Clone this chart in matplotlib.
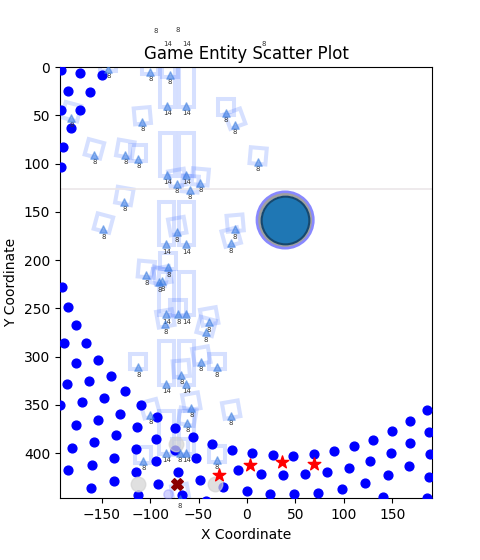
import numpy as np
import matplotlib
matplotlib.use('Agg')
import matplotlib.pyplot as plt
from matplotlib.patches import Rectangle

# blue dots (data coords)
dot_x = [-191.5, -172.0, -149.3, -184.3, -161.6, -172.0, -191.5, -181.2, -189.5, -191.5,
         -190.5, -184.3, -176.1, -188.5, -165.8, -176.1, -153.4, -185.4, -162.7, -140.0,
         -125.6, -169.9, -147.2, -192.6, -109.1, -130.7, -153.4, -176.1, -92.6, -113.2,
         -134.8, -157.5, -180.2, -74.0, -55.5, -93.6, -114.2, -136.9, -159.6, -184.3,
         -74.0, -93.6, -114.2, -136.9, -160.6, -112.2, -91.5, -70.9, -52.4, -35.9,
         -15.3, 5.4, -9.1, -48.2, -24.5, 0.2, -66.8, -42.1,
         14.6, 27.0, 37.3, 47.6, 60.0, 69.3, 82.7, 89.9, 105.4, 110.5,
         127.0, 130.1, 148.7, 149.7, 168.2, 168.2, 185.8, 187.8, 188.9, 187.8,
         167.2, 145.6, 121.9, 98.1, 73.4, 48.7, 23.9, 140.4, 185.6]
dot_y = [3.4, 5.5, 8.6, 24.2, 25.3, 44.0, 44.0, 62.7, 82.5, 103.3,
         228.1, 248.9, 267.6, 286.3, 286.3, 307.1, 304.0, 327.9, 324.8, 320.6,
         335.2, 346.6, 342.5, 349.8, 349.8, 359.1, 365.4, 370.6, 362.2, 372.6,
         381.0, 388.2, 394.5, 373.7, 383.0, 385.1, 395.5, 404.9, 412.2, 417.4,
         396.6, 408.0, 419.4, 428.8, 436.1, 443.4, 431.9, 419.4, 404.9, 390.3,
         396.6, 399.7, 417.4, 427.8, 435.0, 439.2, 443.4, 449.6,
         421.5, 401.8, 422.6, 402.8, 421.5, 400.7, 419.4, 397.6, 415.3, 392.4,
         408.0, 386.2, 399.7, 376.8, 389.3, 366.4, 355.0, 377.8, 400.7, 424.6,
         413.2, 422.6, 430.9, 437.1, 441.3, 442.3, 442.3, 445.4, 446.5]

# entities: position, label, rotation of outline
ent_x = [-143.1, -99.8, -79.2, -82.3, -62.7, -181.2, -108.0, -21.4, -12.2, -157.5,
         -125.6, -112.2, 11.5, -82.3, -62.7, -72.0, -58.6, -48.2, -126.6, -148.2,
         -72.0, -12.2, -16.3, -83.3, -62.7, -103.9, -81.2, -90.5, -87.4, -83.3,
         -62.7, -70.9, -84.3, -39.0, -42.1, -112.2, -47.2, -30.7, -67.8, -83.3,
         -62.7, -57.5, -99.8, -16.3, -61.6, -83.3, -62.7, -68.9, -107.0, -30.7,
         -68.9, -94.6, -82.3, -71.0, -62.7, 17.7]
ent_y = [1.4, 4.5, 7.6, 39.8, 39.8, 52.3, 56.5, 47.1, 59.6, 90.8,
         90.8, 95.0, 98.1, 111.6, 111.6, 121.0, 127.2, 119.9, 139.7, 167.8,
         170.9, 167.8, 182.3, 183.4, 183.4, 215.6, 207.3, 222.9, 221.9, 256.2,
         256.2, 256.2, 266.6, 264.5, 274.9, 311.3, 305.1, 311.3, 318.6, 328.0,
         328.0, 352.9, 360.2, 361.2, 368.5, 399.7, 399.7, 399.7, 408.0, 407.0,
         447.5, -45.4, -31.9, -46.5, -31.9, -31.9]
ent_label = ['8', '8', '8', '14', '14', '8', '8', '8', '8', '8',
             '8', '8', '8', '14', '14', '8', '8', '8', '8', '8',
             '8', '8', '8', '14', '14', '8', '8', '8', '8', '14',
             '14', '8', '8', '8', '8', '8', '8', '8', '8', '14',
             '14', '8', '8', '8', '8', '14', '14', '8', '8', '8',
             '8', '8', '14', '8', '14', '8']
ent_rot = [0, 0, 0, 0, 0, 15, -5, 0, -20, 15,
           10, 0, 5, 0, 0, -10, 5, 5, 10, 15,
           -10, -5, -15, 0, 0, 5, 0, 15, -10, 0,
           0, 0, -10, -10, 15, 0, -10, 0, -5, 0,
           0, -10, -15, -10, 10, 0, 0, 0, 0, 0,
           -10, 0, 0, 0, 0, 0]

star_x = [-28.7, 3.3, 36.3, 69.3]
star_y = [422.6, 412.2, 409.1, 411.2]

ghost_x = [-112.2, -32.8, -72.9]
ghost_y = [431.9, 431.9, 390.3]

player_x, player_y = 39.4, 158.4
enemy_x, enemy_y = -71.9, 431.9
orb_x, orb_y = -81.2, 442.3
line_y = 126.2

fig, ax = plt.subplots(figsize=(4.8, 5.6), dpi=100)

# outlines of the entities
for x, y, lab, rot in zip(ent_x, ent_y, ent_label, ent_rot):
    if lab == '14':
        w, h = 15.5, 44.7
        r = Rectangle((x - w / 2, y + 1 - h), w, h, fill=False,
                      edgecolor=(0.2, 0.4, 1.0), alpha=0.2, linewidth=2.9)
    else:
        s = 16.5
        r = Rectangle((x - s / 2, y - 6.2 - s / 2), s, s, angle=rot,
                      rotation_point='center', fill=False,
                      edgecolor=(0.2, 0.4, 1.0), alpha=0.2, linewidth=2.9)
    ax.add_patch(r)

ax.axhline(line_y, color='#ebe6e9', linewidth=1.2, zorder=1)

ax.scatter(dot_x, dot_y, s=40, color='blue', zorder=3)

ax.scatter(ent_x, ent_y, marker='^', s=28, color='#3d7ee0', alpha=0.55, zorder=4)
for x, y, lab in zip(ent_x, ent_y, ent_label):
    ax.text(x, y + 7.8, lab, ha='center', va='center', fontsize=5, color='#333333')

ax.scatter(ghost_x, ghost_y, s=110, color='lightgray', alpha=0.7, zorder=3)
ax.scatter([orb_x], [orb_y], s=45, color='#8080ff', alpha=0.35, zorder=3)
ax.scatter([enemy_x], [enemy_y], marker='X', s=70, color='darkred', zorder=5)
ax.scatter(star_x, star_y, marker='*', s=90, color='red', zorder=5)

# player with rings
ax.scatter([player_x], [player_y], s=1600, facecolor='none', edgecolor='#7b7bff',
           linewidth=2.5, alpha=0.9, zorder=5)
ax.scatter([player_x], [player_y], s=1350, facecolor='none', edgecolor='#a0a0a0',
           linewidth=2, zorder=6)
ax.scatter([player_x], [player_y], s=1180, color='#1f77b4', edgecolor='#17486e',
           linewidth=1.5, zorder=7)

ax.set_xlim(-193, 191)
ax.set_ylim(447, 0)
ax.set_title('Game Entity Scatter Plot')
ax.set_xlabel('X Coordinate')
ax.set_ylabel('Y Coordinate')

plt.savefig('out.png')
